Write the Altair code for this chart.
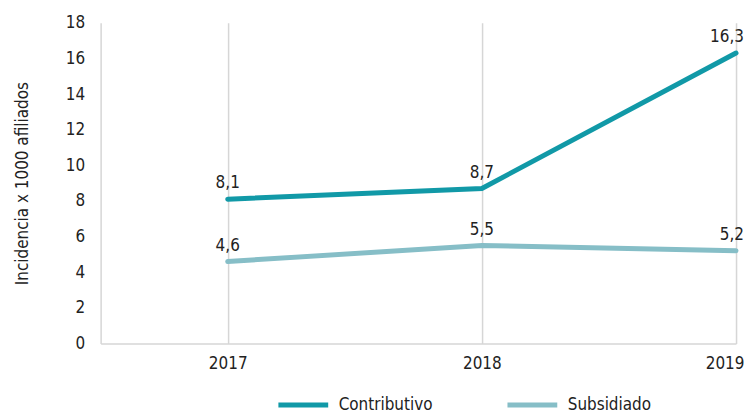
import altair as alt
import pandas as pd

years = [2017, 2018, 2019]
contributivo = [8.1, 8.7, 16.3]
subsidiado = [4.6, 5.5, 5.2]
series_names = ["Contributivo", "Subsidiado"]
colors = ["#1199a7", "#86bec7"]
y_ticks = [0, 2, 4, 6, 8, 10, 12, 14, 16, 18]

rows = []
for name, vals in zip(series_names, [contributivo, subsidiado]):
    for y, v in zip(years, vals):
        rows.append({"year": y, "value": v, "serie": name,
                     "label": f"{v:.1f}".replace(".", ",")})
df = pd.DataFrame(rows)

FONT = "DejaVu Sans Condensed"
last_year = years[-1]

x = alt.X("year:Q", scale=alt.Scale(domain=[2016.5, 2019], nice=False, zero=False),
          axis=alt.Axis(values=years, format="d", title=None, ticks=False,
                        labelPadding=12, labelFontSize=17, labelColor="#222",
                        grid=True, gridColor="#d6d6d6", gridWidth=1.5, labelOverlap=False,
                        domainColor="#d6d6d6", domainWidth=1.5,
                        labelFlush=True, labelFlushOffset=8))
y = alt.Y("value:Q", scale=alt.Scale(domain=[0, 18], nice=False),
          axis=alt.Axis(values=y_ticks, title="Incidencia x 1000 afiliados",
                        ticks=False, grid=False, labelPadding=16, labelFontSize=17,
                        labelColor="#222", titleFontSize=17, titleFontWeight="normal",
                        titleColor="#222", titlePadding=34, labelOverlap=False,
                        domainColor="#d6d6d6", domainWidth=1.5))
color = alt.Color("serie:N", scale=alt.Scale(domain=series_names, range=colors),
                  legend=alt.Legend(title=None, orient="none", legendX=176, legendY=356,
                                    direction="horizontal", symbolType="stroke",
                                    symbolSize=2500, symbolStrokeWidth=5,
                                    labelFontSize=17, labelColor="#222",
                                    columnPadding=64, labelOffset=8))

base = alt.Chart(df).encode(x=x, y=y)
lines = base.mark_line(strokeWidth=5, strokeCap="round").encode(color=color)
texts_mid = base.transform_filter(alt.datum.year < last_year).mark_text(
    baseline="bottom", dy=-7, fontSize=17, color="#222", font=FONT).encode(text="label:N")
texts_end = base.transform_filter(alt.datum.year == last_year).mark_text(
    baseline="bottom", align="right", dx=8, dy=-7, fontSize=17, color="#222", font=FONT).encode(text="label:N")

chart = (lines + texts_mid + texts_end).properties(
    width=638, height=322,
    padding={"left": 5, "top": 5, "right": 0, "bottom": 0},
).configure(font=FONT).configure_view(stroke=None)
chart.save("out.html", embed_options={"renderer": "svg", "actions": False})
